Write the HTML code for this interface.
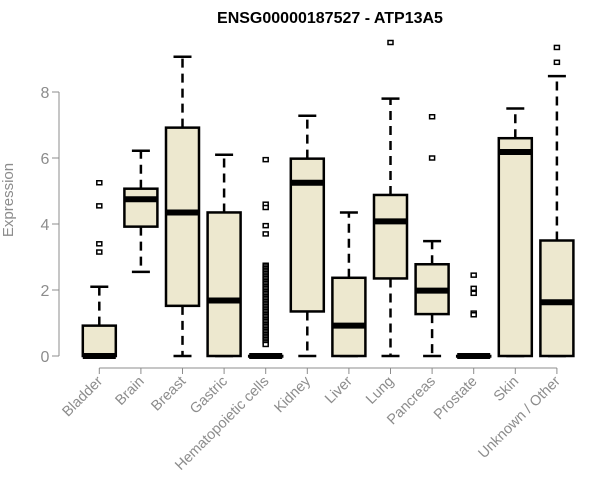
<!DOCTYPE html>
<html><head><meta charset="utf-8"><style>
html,body{margin:0;padding:0;background:#fff;}
svg{display:block;font-family:"Liberation Sans",Arial,sans-serif;}
</style></head><body>
<svg id="chart" width="600" height="500">
<text x="330" y="23" text-anchor="middle" font-weight="bold" font-size="16">ENSG00000187527 - ATP13A5</text>
<text x="13" y="200" transform="rotate(-90 13 200)" text-anchor="middle" font-size="15" fill="#8c8c8c">Expression</text>
<g id="plot"></g>
</svg>
<script>
const categories=["Bladder","Brain","Breast","Gastric","Hematopoietic cells","Kidney","Liver","Lung","Pancreas","Prostate","Skin","Unknown / Other"];
const q1=[0,3.92,1.52,0,0,1.35,0,2.35,1.27,0,0,0];
const medians=[0,4.75,4.35,1.68,0,5.25,0.92,4.08,1.98,0,6.18,1.63];
const q3=[0.92,5.07,6.92,4.35,0,5.98,2.37,4.88,2.78,0,6.6,3.5];
const whiskerLow=[0,2.55,0,0,0,0,0,0,0,0,0,0];
const whiskerHigh=[2.1,6.22,9.07,6.1,0,7.28,4.35,7.8,3.48,0,7.5,8.48];
const outliers=[[5.25,4.55,3.4,3.15],[],[],[],[5.95,4.6,4.5,3.95,3.7,2.75,2.7,2.65,2.6,2.55,2.5,2.45,2.4,2.35,2.3,2.25,2.2,2.15,2.1,2.05,2.0,1.95,1.9,1.85,1.8,1.75,1.7,1.65,1.6,1.55,1.5,1.45,1.4,1.35,1.3,1.25,1.2,1.15,1.1,1.05,1.0,0.95,0.9,0.85,0.8,0.75,0.7,0.65,0.6,0.55,0.5,0.45,0.4,0.35],[],[],[9.5],[7.25,6.0],[2.45,2.05,1.9,1.3,1.25],[],[9.35,8.9]];
const yTicks=[0,2,4,6,8];
const NS="http://www.w3.org/2000/svg";
const g=document.getElementById('plot');
const y=v=>356-v*33.0;
const x=i=>99.3+i*41.6;
const bw=33;
function el(t,a){const e=document.createElementNS(NS,t);for(const k in a)e.setAttribute(k,a[k]);g.appendChild(e);return e;}
let ax=el('line',{x1:59,x2:59,y1:y(0),y2:y(8),stroke:'#8c8c8c'});


yTicks.forEach(t=>{
 const tk=el('line',{x1:52,x2:59,y1:y(t),y2:y(t),stroke:'#8c8c8c'});
 
 
 const tx=el('text',{x:45,y:y(t)+6,'text-anchor':'middle','font-size':16,fill:'#8c8c8c'});
 tx.textContent=t;
 
 
});
let xa=el('line',{x1:x(0),x2:x(categories.length-1),y1:368,y2:368,stroke:'#8c8c8c'});


categories.forEach((c,i)=>{
 const cx=x(i);
 const tk=el('line',{x1:cx,x2:cx,y1:368,y2:374,stroke:'#8c8c8c'});
 
 
 const tx=el('text',{x:cx+4,y:382,'text-anchor':'end','font-size':14.5,fill:'#8c8c8c',transform:`rotate(-45 ${cx+4} 382)`});
 tx.textContent=c;
 
 
 const w1=el('line',{x1:cx,x2:cx,y1:y(q3[i]),y2:y(whiskerHigh[i]),stroke:'#000','stroke-width':2.5,'stroke-dasharray':'9,6'});
 
 
 const w2=el('line',{x1:cx,x2:cx,y1:y(q1[i]),y2:y(whiskerLow[i]),stroke:'#000','stroke-width':2.5,'stroke-dasharray':'9,6'});
 
 
 [whiskerHigh[i],whiskerLow[i]].forEach(v=>{
  const cap=el('line',{x1:cx-9,x2:cx+9,y1:y(v),y2:y(v),stroke:'#000','stroke-width':2.5});
  
  
 });
 const b=el('rect',{x:cx-bw/2,y:y(q3[i]),width:bw,height:Math.max(y(q1[i])-y(q3[i]),0.5),fill:'#ede8cf',stroke:'#000','stroke-width':2.5});
 
 
 const m=el('line',{x1:cx-bw/2,x2:cx+bw/2,y1:y(medians[i]),y2:y(medians[i]),stroke:'#000','stroke-width':6});
 
 
 outliers[i].forEach(v=>{
  const o=el('rect',{x:cx-2.5,y:y(v)-2,width:5,height:4,fill:'#fff',stroke:'#000','stroke-width':1.5});
  
  
 });
});
</script>
</body></html>
